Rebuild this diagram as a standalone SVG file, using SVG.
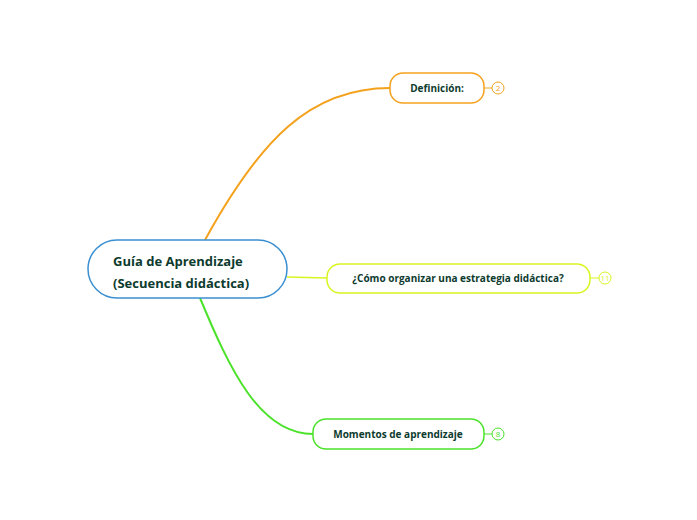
<svg xmlns="http://www.w3.org/2000/svg" width="697" height="520" viewBox="0 0 697 520">
<style>
text{font-family:"Open Sans","Noto Sans",sans-serif;font-weight:bold;fill:#0d3b2e}
.n{fill:#fff;stroke-width:1.5}
.b{fill:#fff;stroke-width:1}
.bt{font-size:8px;font-weight:normal}
.c{fill:none}
</style>
<rect width="697" height="520" fill="#fff"/>
<g id="connectors">
<path class="c" d="M205,240 C260,140 310,88 390,88" stroke="#f4a21e" stroke-width="2"/>
<path class="c" d="M287,277 L327,278" stroke="#d9f520" stroke-width="1.5"/>
<path class="c" d="M200,298 C230,370 260,434 313,434" stroke="#4be22a" stroke-width="2"/>
<path d="M484,88 H492" stroke="#f4a21e"/>
<path d="M590,278 H599" stroke="#d9f520"/>
<path d="M484,434 H492" stroke="#4be22a"/>
</g>
<g id="root">
<rect class="n" x="88" y="240" width="199" height="58" rx="29" stroke="#3a8fd1"/>
<text x="113" y="266" font-size="13">Guía de Aprendizaje</text>
<text x="113" y="288" font-size="13">(Secuencia didáctica)</text>
</g>
<g id="n1">
<rect class="n" x="390" y="73" width="94" height="30" rx="13" stroke="#f4a21e"/>
<text x="437" y="92" font-size="10" text-anchor="middle">Definición:</text>
<circle class="b" cx="498" cy="88" r="6" stroke="#f4a21e"/>
<text class="bt" x="498" y="91" text-anchor="middle" style="fill:#f4a21e">2</text>
</g>
<g id="n2">
<rect class="n" x="327" y="264" width="263" height="29" rx="13" stroke="#d9f520"/>
<text x="458" y="282" font-size="10" text-anchor="middle">¿Cómo organizar una estrategia didáctica?</text>
<circle class="b" cx="605" cy="278" r="6" stroke="#d9f520"/>
<text class="bt" x="605" y="281" text-anchor="middle" style="fill:#d9f520">11</text>
</g>
<g id="n3">
<rect class="n" x="313" y="419" width="171" height="30" rx="13" stroke="#4be22a"/>
<text x="398" y="438" font-size="10" text-anchor="middle">Momentos de aprendizaje</text>
<circle class="b" cx="498" cy="434" r="6" stroke="#4be22a"/>
<text class="bt" x="498" y="437" text-anchor="middle" style="fill:#4be22a">8</text>
</g>
</svg>
